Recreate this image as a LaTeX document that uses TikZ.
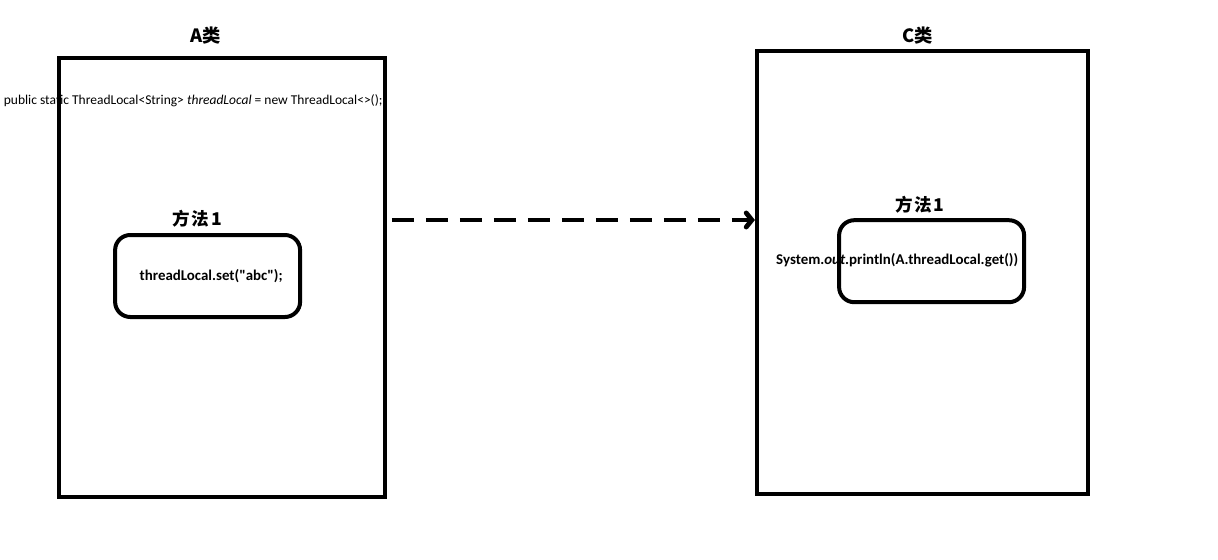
\documentclass[tikz,border=0pt]{standalone}
\usepackage{fontspec}
\setmainfont{Carlito}
\newfontfamily\codefont{Carlito}
\newfontfamily\cjkfont{Noto Sans CJK SC}
\usetikzlibrary{arrows.meta, positioning}

\begin{document}
\begin{tikzpicture}[
          clsbox/.style={
              draw=black,
              line width=0.1cm,
              minimum width=8.15cm,
              minimum height=10.975cm
            },
          methodbox/.style={
              draw=black,
              rounded corners=0.38cm,
              line width=0.1cm,
              minimum width=4.625cm,
              minimum height=2.05cm
            },
          clstitle/.style={font=\cjkfont\bfseries\fontsize{13}{15}\selectfont},
          methtitle/.style={font=\cjkfont\bfseries\fontsize{12.5}{15}\selectfont\addfontfeature{LetterSpace=10}},
          code/.style={font=\codefont\fontsize{9.6}{11}\selectfont, inner sep=0pt},
          boldcode/.style={font=\codefont\bfseries\fontsize{10.6}{12}\selectfont, inner sep=0pt},
          flow/.style={-{Straight Barb[length=4pt, width=10pt, line cap=round]}, line width=0.12cm,
              dash pattern=on 0.55cm off 0.3cm, shorten <=0.12cm}
        ]
        \useasboundingbox (0,0) rectangle (30.45,-14);

        % class A
        \node[clsbox] (a_box) at (5.55,-6.94) {};
        \node[clstitle] (a_title) at (5.15,-0.9) {A类};
        \node[code] (a_field) at (4.83,-2.52) {public static ThreadLocal<String> \textit{threadLocal} = new ThreadLocal<>();};
        \node[methodbox] (a_m1) at (5.19,-6.9) {};
        \node[methtitle] (a_m1_title) at (4.93,-5.47) {方法1};
        \node[boldcode] (a_set) at (5.28,-6.9) {threadLocal.set("abc");};

        % class C
        \node[clsbox, minimum width=8.275cm, minimum height=11.075cm] (c_box) at (23.06,-6.81) {};
        \node[clstitle] (c_title) at (22.95,-0.88) {C类};
        \node[methodbox] (c_m1) at (23.29,-6.53) {};
        \node[methtitle] (c_m1_title) at (23.0,-5.12) {方法1};
        \node[boldcode] (c_get) at (22.43,-6.5) {System.\textit{out}.println(A.threadLocal.get())};

        \coordinate (flow_y) at (0,-5.5);
        \draw[flow] (a_box.east |- flow_y) -- (c_box.west |- flow_y);
      \end{tikzpicture}
\end{document}
